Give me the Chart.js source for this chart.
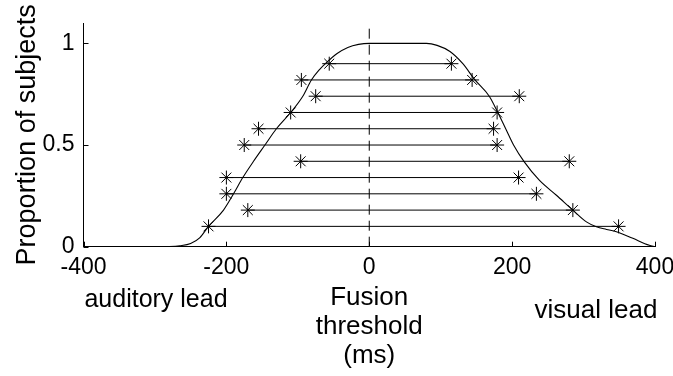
<!DOCTYPE html>
<html>
<head>
<meta charset="utf-8">
<script src="https://cdn.jsdelivr.net/npm/chart.js@4/dist/chart.umd.min.js"></script>
<style>
html,body{margin:0;padding:0;background:#fff;}
#wrap{width:673px;height:376px;}
</style>
</head>
<body>
<div id="wrap"><canvas id="c" width="673" height="376"></canvas></div>
<script>
// ---- data ----
const xTicks = [-400, -200, 0, 200, 400];
const yTicks = [0, 0.5, 1];
const rowY   = [0.9, 0.82, 0.74, 0.66, 0.58, 0.5, 0.42, 0.34, 0.26, 0.18, 0.1];
const leftX  = [-56, -95, -75, -110, -155, -175, -96, -200, -200, -170, -225];
const rightX = [115, 144, 210, 179, 174, 179, 280, 209, 234, 285, 349];
const curveX = [-400, -300, -280, -265, -250, -237, -225, -204, -190, -177, -162, -146, -130, -110, -93, -81, -70, -60, -45, -30, -15, 0, 40, 80, 95, 113, 131, 148, 168, 180, 191, 202, 217, 238, 262, 285, 304, 318, 332, 346, 369, 392, 400];
const curveY = [0, 0, 0.001, 0.005, 0.016, 0.045, 0.1, 0.18, 0.26, 0.34, 0.42, 0.5, 0.58, 0.66, 0.74, 0.82, 0.87, 0.905, 0.95, 0.98, 0.995, 1.0, 1.0, 1.0, 0.99, 0.96, 0.9, 0.82, 0.74, 0.66, 0.58, 0.5, 0.417, 0.327, 0.253, 0.18, 0.122, 0.098, 0.085, 0.074, 0.041, 0.007, 0];
const xLabelLeft = 'auditory lead';
const xLabelRight = 'visual lead';
const xTitle = ['Fusion', 'threshold', '(ms)'];
const yTitle = 'Proportion of subjects';

const FONT = "'Liberation Sans', Arial, sans-serif";

const datasets = [];
datasets.push({
  data: curveX.map((x, i) => ({x, y: curveY[i]})),
  showLine: true, borderColor: '#000', borderWidth: 1.1,
  pointRadius: 0, cubicInterpolationMode: 'monotone', fill: false
});
datasets.push({
  data: [{x: 0, y: 0}, {x: 0, y: 1.1}],
  showLine: true, borderColor: '#000', borderWidth: 1, borderDash: [10, 6],
  pointRadius: 0
});
rowY.forEach((y, i) => {
  datasets.push({
    data: [{x: leftX[i], y}, {x: rightX[i], y}],
    showLine: true, borderColor: '#000', borderWidth: 1,
    pointStyle: 'star', pointRadius: 7, pointBorderWidth: 1,
    pointBorderColor: '#000', pointBackgroundColor: 'rgba(0,0,0,0)'
  });
});

const extras = {
  id: 'extras',
  afterDraw(chart) {
    const ctx = chart.ctx;
    const xs = chart.scales.x, ys = chart.scales.y;
    ctx.save();
    ctx.strokeStyle = '#000';
    ctx.lineWidth = 1;
    ctx.beginPath();
    xTicks.forEach(v => {
      const px = Math.round(xs.getPixelForValue(v)) + 0.5;
      ctx.moveTo(px, ys.bottom);
      ctx.lineTo(px, ys.bottom - 5);
    });
    yTicks.forEach(v => {
      const py = Math.round(ys.getPixelForValue(v)) + 0.5;
      ctx.moveTo(xs.left, py);
      ctx.lineTo(xs.left + 5, py);
    });
    ctx.stroke();
    ctx.fillStyle = '#000';
    ctx.font = '25px ' + FONT;
    ctx.textAlign = 'center';
    ctx.textBaseline = 'middle';
    ctx.fillText(xLabelLeft, 156, 300);
    ctx.ctx;
    ctx.font = '26px ' + FONT;
    ctx.fillText(xLabelRight, 596, 311);
    ctx.restore();
  }
};

new Chart(document.getElementById('c'), {
  type: 'scatter',
  data: {datasets},
  options: {
    responsive: false,
    animation: false,
    plugins: {legend: {display: false}, tooltip: {enabled: false}},
    layout: {padding: {top: 23, right: 18, left: 0, bottom: 0}},
    scales: {
      x: {
        type: 'linear', min: -400, max: 400,
        afterBuildTicks: s => { s.ticks = xTicks.map(v => ({value: v})); },
        grid: {display: false, drawTicks: false},
        border: {display: true, color: '#000', width: 1},
        ticks: {color: '#000', font: {family: FONT, size: 23}, padding: 7, maxRotation: 0, autoSkip: false,
                callback: v => String(v)},
        title: {display: true, text: xTitle, color: '#000', font: {family: FONT, size: 26, lineHeight: 1.13}, padding: {top: 0, bottom: 5}},
        afterFit: s => { s.height = 129.3; s.paddingLeft = 0; s.paddingRight = 0; }
      },
      y: {
        type: 'linear', min: 0, max: 1.1,
        afterBuildTicks: s => { s.ticks = yTicks.map(v => ({value: v})); },
        grid: {display: false, drawTicks: false},
        border: {display: true, color: '#000', width: 1},
        ticks: {color: '#000', font: {family: FONT, size: 23}, padding: 9, autoSkip: false,
                callback: v => String(v)},
        title: {display: true, text: yTitle, color: '#000', font: {family: FONT, size: 27, lineHeight: 1.2}, padding: {top: 11, bottom: 0}},
        afterFit: s => { s.width = 83.5; s.paddingTop = 0; s.paddingBottom = 0; }
      }
    }
  },
  plugins: [extras]
});
</script>
</body>
</html>
